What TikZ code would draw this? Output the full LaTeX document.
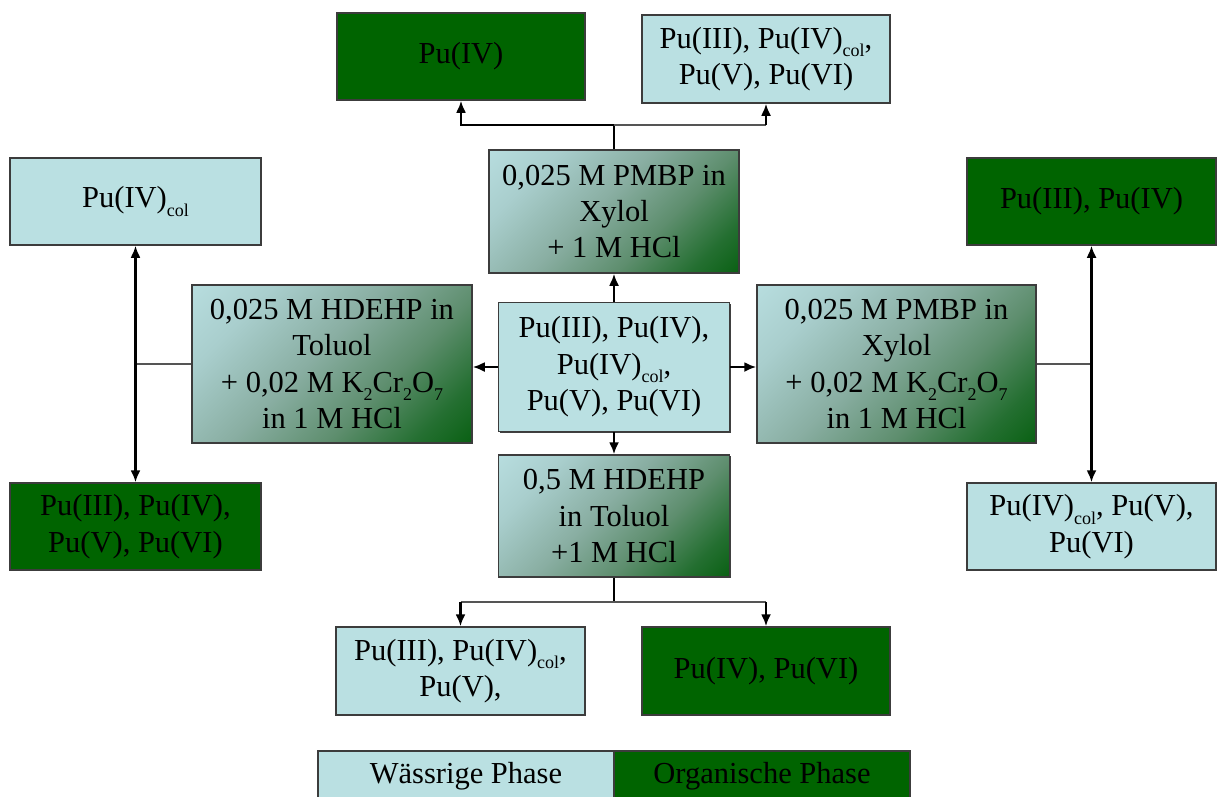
\documentclass[tikz,border=0pt]{standalone}
\usepackage{fontspec}
\setmainfont{Liberation Serif}
\usetikzlibrary{arrows.meta,shadows}
\definecolor{aqua}{HTML}{BAE0E2}
\definecolor{orggreen}{HTML}{006400}
\definecolor{boxline}{HTML}{3C3C3C}
\definecolor{connline}{HTML}{555555}
\definecolor{gA}{HTML}{055E0E}
\definecolor{gB}{HTML}{246F31}
\definecolor{gC}{HTML}{5E8E6E}
\definecolor{gD}{HTML}{89AEA2}
\definecolor{gE}{HTML}{A9CECD}
\pgfdeclareverticalshading{diaggrad}{100bp}{%
  color(0bp)=(gA);
  color(13bp)=(gA);
  color(24bp)=(gB);
  color(38bp)=(gC);
  color(54bp)=(gD);
  color(72bp)=(gE);
  color(88bp)=(aqua);
  color(100bp)=(aqua)}
\newcommand{\lsub}[1]{\raisebox{-0.28em}{\fontsize{18}{18}\selectfont #1}}
\tikzset{
  basebox/.style={draw=boxline, line width=1.5pt, align=center, inner sep=0pt,
    font=\fontsize{30.5}{36.5}\selectfont,
    drop shadow={shadow xshift=1.2pt, shadow yshift=-1.4pt, fill=black!75, opacity=1}},
  aq/.style={basebox, fill=aqua},
  org/.style={basebox, fill=orggreen},
  grad/.style={basebox, shading=diaggrad, shading angle=45},
  conn/.style={draw=black, line width=2.2pt},
  stub/.style={draw=connline, line width=1.8pt},
  arr/.style={conn, -{Latex[length=12pt,width=10pt]}},
  darr/.style={conn, {Latex[length=12pt,width=10pt]}-{Latex[length=12pt,width=10pt]}},
  legbox/.style={draw=boxline, line width=1.5pt, font=\fontsize{30.5}{36}\selectfont, minimum width=296, minimum height=50, inner sep=0pt}
}
\begin{document}
\begin{tikzpicture}[x=1pt,y=-1pt]
\clip (0,0) rectangle (1218,796);
\fill[white] (0,0) rectangle (1218,796);
% top row
\node[org, minimum width=248, minimum height=87] (t1) at (461,56.5) {Pu(IV)};
\node[aq, minimum width=248, minimum height=88] (t2) at (766,59) {Pu(III), Pu(IV)\lsub{col},\\Pu(V), Pu(VI)};
% center column
\node[grad, minimum width=250, minimum height=123] (ct) at (614,211.5) {0,025 M PMBP in\\Xylol\\+ 1 M HCl};
\node[aq, minimum width=231, minimum height=129] (c) at (614,367) {Pu(III), Pu(IV),\\Pu(IV)\lsub{col},\\Pu(V), Pu(VI)};
\node[grad, minimum width=231, minimum height=122] (cb) at (614,516) {0,5 M HDEHP\\in Toluol\\+1 M HCl};
% middle left/right
\node[grad, minimum width=280, minimum height=158] (L) at (332,364) {0,025 M HDEHP in\\Toluol\\+ 0,02 M K\lsub{2}Cr\lsub{2}O\lsub{7}\\in 1 M HCl};
\node[grad, minimum width=279, minimum height=158] (R) at (896.5,364) {0,025 M PMBP in\\Xylol\\+ 0,02 M K\lsub{2}Cr\lsub{2}O\lsub{7}\\in 1 M HCl};
% outer left
\node[aq, minimum width=251, minimum height=87] (lt) at (135.5,201.5) {Pu(IV)\lsub{col}};
\node[org, minimum width=251, minimum height=87] (lb) at (135.5,526.5) {Pu(III), Pu(IV),\\Pu(V), Pu(VI)};
% outer right
\node[org, minimum width=249, minimum height=87] (rt) at (1091.5,201.5) {Pu(III), Pu(IV)};
\node[aq, minimum width=249, minimum height=87] (rb) at (1091.5,526.5) {Pu(IV)\lsub{col}, Pu(V),\\Pu(VI)};
% bottom row
\node[aq, minimum width=249, minimum height=88] (bl) at (460.5,671) {Pu(III), Pu(IV)\lsub{col},\\Pu(V),};
\node[org, minimum width=248, minimum height=88] (br) at (766,671) {Pu(IV), Pu(VI)};
% legend
\node[legbox, fill=aqua] (lg1) at (466,776) {W\"assrige Phase};
\node[legbox, fill=orggreen] (lg2) at (762,776) {Organische Phase};
% junctions
\coordinate (jt) at (614,125);
\coordinate (jb) at (614,602);
\coordinate (jl) at (135.5,364);
\coordinate (jr) at (1091.5,364);
% connectors
\draw[conn] (ct.north) -- (jt);
\draw[arr] (jt) -| (t1.south);
\draw[stub] (jt) -- (jt -| t2.south);
\draw[arr] (jt -| t2.south) -- (t2.south);
\draw[arr] (c.north) -- (ct.south);
\draw[arr] (c.south) -- (cb.north);
\draw[arr] (c.west) -- (c.west -| L.east);
\draw[arr] (c.east) -- (c.east -| R.west);
\draw[conn] (cb.south) -- (jb);
\draw[stub] (jb -| bl.north) -- (jb -| br.north);
\draw[arr] (jb -| bl.north) -- (bl.north);
\draw[arr] (jb -| br.north) -- (br.north);
\draw[stub] (L.west) -- (jl);
\draw[darr] (lt.south) -- (lb.north);
\draw[stub] (R.east) -- (jr);
\draw[darr] (rt.south) -- (rb.north);
\end{tikzpicture}
\end{document}
